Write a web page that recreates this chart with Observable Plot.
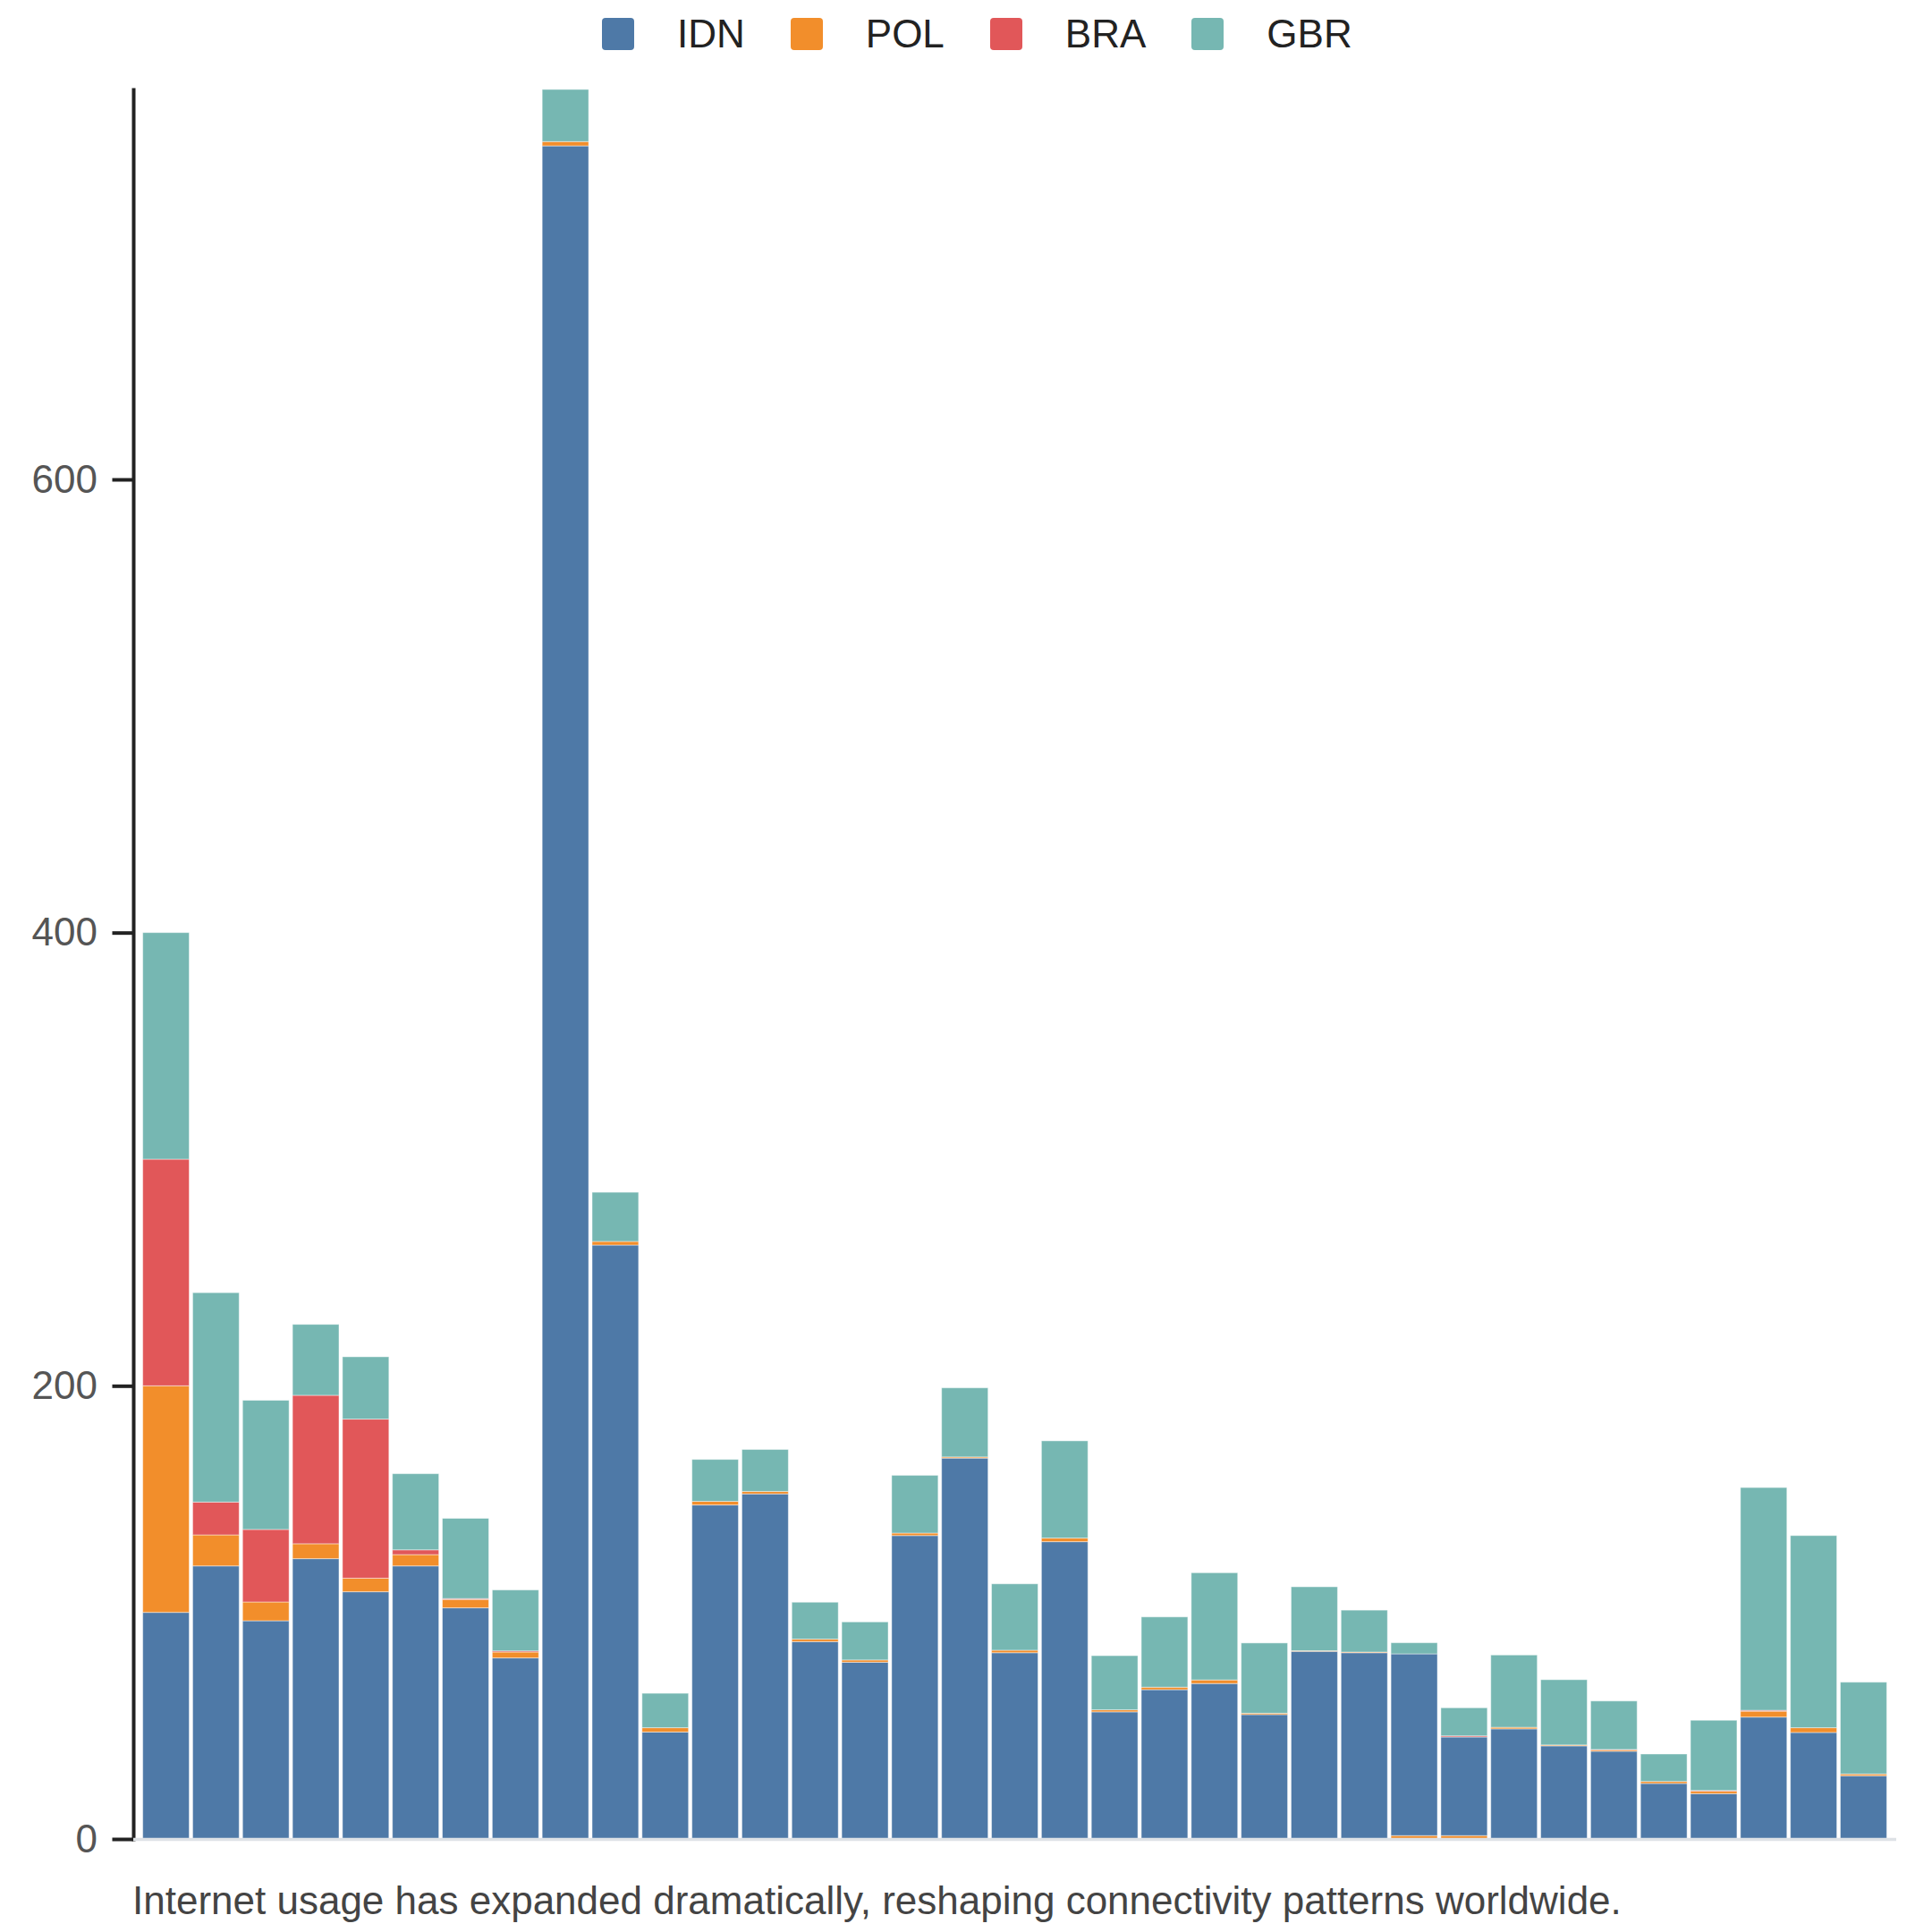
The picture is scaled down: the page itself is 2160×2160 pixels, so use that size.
<!DOCTYPE html>
<html>
<head>
<meta charset="utf-8">
<script src="https://cdn.jsdelivr.net/npm/d3@7"></script>
<script src="https://cdn.jsdelivr.net/npm/@observablehq/plot@0.6"></script>
<style>
  html, body { margin: 0; padding: 0; background: #fff; }
  body { width: 2160px; font-family: "Liberation Sans", Arial, Helvetica, sans-serif; }
  #legend { height: 76px; display: flex; align-items: center; padding-left: 673px; box-sizing: border-box; }
  .item { display: flex; align-items: center; margin-right: 51px; }
  .sw { width: 36px; height: 36px; border-radius: 4px; margin-right: 48px; }
  .lab { font-size: 44px; color: #222; line-height: 1; }
  #caption { font-size: 44px; line-height: 1.15; color: #444; padding-left: 148px; margin-top: 20px; }
  svg { display: block; }
</style>
</head>
<body>
<div id="legend"></div>
<div id="chart"></div>
<div id="caption"></div>
<script>
const years = [1990,1991,1992,1993,1994,1995,1996,1997,1998,1999,2000,2001,2002,2003,2004,2005,2006,2007,2008,2009,2010,2011,2012,2013,2014,2015,2016,2017,2018,2019,2020,2021,2022,2023,2024];
const countries = ["IDN", "POL", "BRA", "GBR"];
const colors = ["#4e79a7", "#f28e2b", "#e15759", "#76b7b2"];

const idn = [100, 120.5, 96.3, 123.7, 109.1, 120.5, 102.0, 79.9, 747.2, 262.1, 47.2, 147.4, 152.3, 87.1, 78.0, 133.9, 168.1, 82.2, 131.2, 56.1, 65.9, 68.6, 54.9, 82.8, 82.2, 80.2, 43.5, 48.6, 41.1, 38.7, 24.5, 20.0, 53.8, 47.0, 27.9];
const pol = [100, 13.7, 8.3, 6.6, 6.0, 5.0, 3.7, 2.6, 1.9, 1.6, 1.9, 1.6, 1.1, 1.1, 1.0, 1.1, 0.5, 1.1, 1.6, 0.9, 1.1, 1.6, 0.6, 0.3, 0.3, 1.5, 1.5, 0.7, 0.4, 0.6, 0.9, 1.1, 2.6, 2.1, 0.8];
const bra = [100, 14.5, 32.0, 65.5, 70.2, 2.1, 0.4, 0.5, 0, 0, 0, 0, 0, 0, 0, 0, 0, 0, 0, 0, 0, 0, 0, 0, 0, 0, 0.5, 0, 0, 0.2, 0, 0.3, 0.4, 0, 0];
const gbr = [100, 92.4, 57.0, 31.3, 27.5, 33.6, 35.4, 26.9, 23.0, 21.7, 15.2, 18.5, 18.5, 16.3, 16.8, 25.5, 30.5, 29.3, 42.9, 23.9, 31.0, 47.3, 31.0, 28.2, 18.5, 4.9, 12.4, 31.9, 28.8, 21.4, 12.1, 31.0, 98.3, 84.8, 40.5];
// years whose source rows list POL before IDN (POL stacked at the bottom)
const polFirstYears = [2015, 2016];

const yTicks = [0, 200, 400, 600];
const captionText = "Internet usage has expanded dramatically, reshaping connectivity patterns worldwide.";

const series = {IDN: idn, POL: pol, BRA: bra, GBR: gbr};
const rows = [];
years.forEach((year, i) => {
  const order = polFirstYears.includes(year) ? ["POL", "IDN", "BRA", "GBR"] : countries;
  for (const c of order) rows.push({year, country: c, value: series[c][i]});
});

// legend
const legend = document.getElementById("legend");
countries.forEach((c, i) => {
  const it = document.createElement("div");
  it.className = "item";
  const sw = document.createElement("div");
  sw.className = "sw";
  sw.style.background = colors[i];
  const lab = document.createElement("span");
  lab.className = "lab";
  lab.textContent = c;
  it.appendChild(sw);
  it.appendChild(lab);
  legend.appendChild(it);
});

const chart = Plot.plot({
  width: 2160,
  height: 2004,
  marginTop: 24,
  marginBottom: 24,
  marginLeft: 149,
  marginRight: 40,
  style: {fontFamily: "'Liberation Sans', Arial, Helvetica, sans-serif", fontSize: "44px", color: "#555", background: "#fff"},
  x: {domain: years, paddingInner: 0.07, paddingOuter: 0.19, round: false, axis: null},
  y: {axis: null},
  color: {domain: countries, range: colors},
  marks: [
    Plot.barY(rows, {x: "year", y: "value", fill: "country", stroke: "white", strokeOpacity: 0.45, strokeWidth: 1}),
    Plot.axisY({ticks: yTicks, tickSize: 23.5, tickPadding: 17, stroke: "#222", strokeWidth: 4, fill: "#555", fontSize: 44, label: null}),
    Plot.frame({anchor: "left", stroke: "#222", strokeWidth: 4}),
    Plot.ruleY([0], {stroke: "#dee2e6", strokeWidth: 3.3})
  ]
});
document.getElementById("chart").appendChild(chart);
document.getElementById("caption").textContent = captionText;
</script>
</body>
</html>
